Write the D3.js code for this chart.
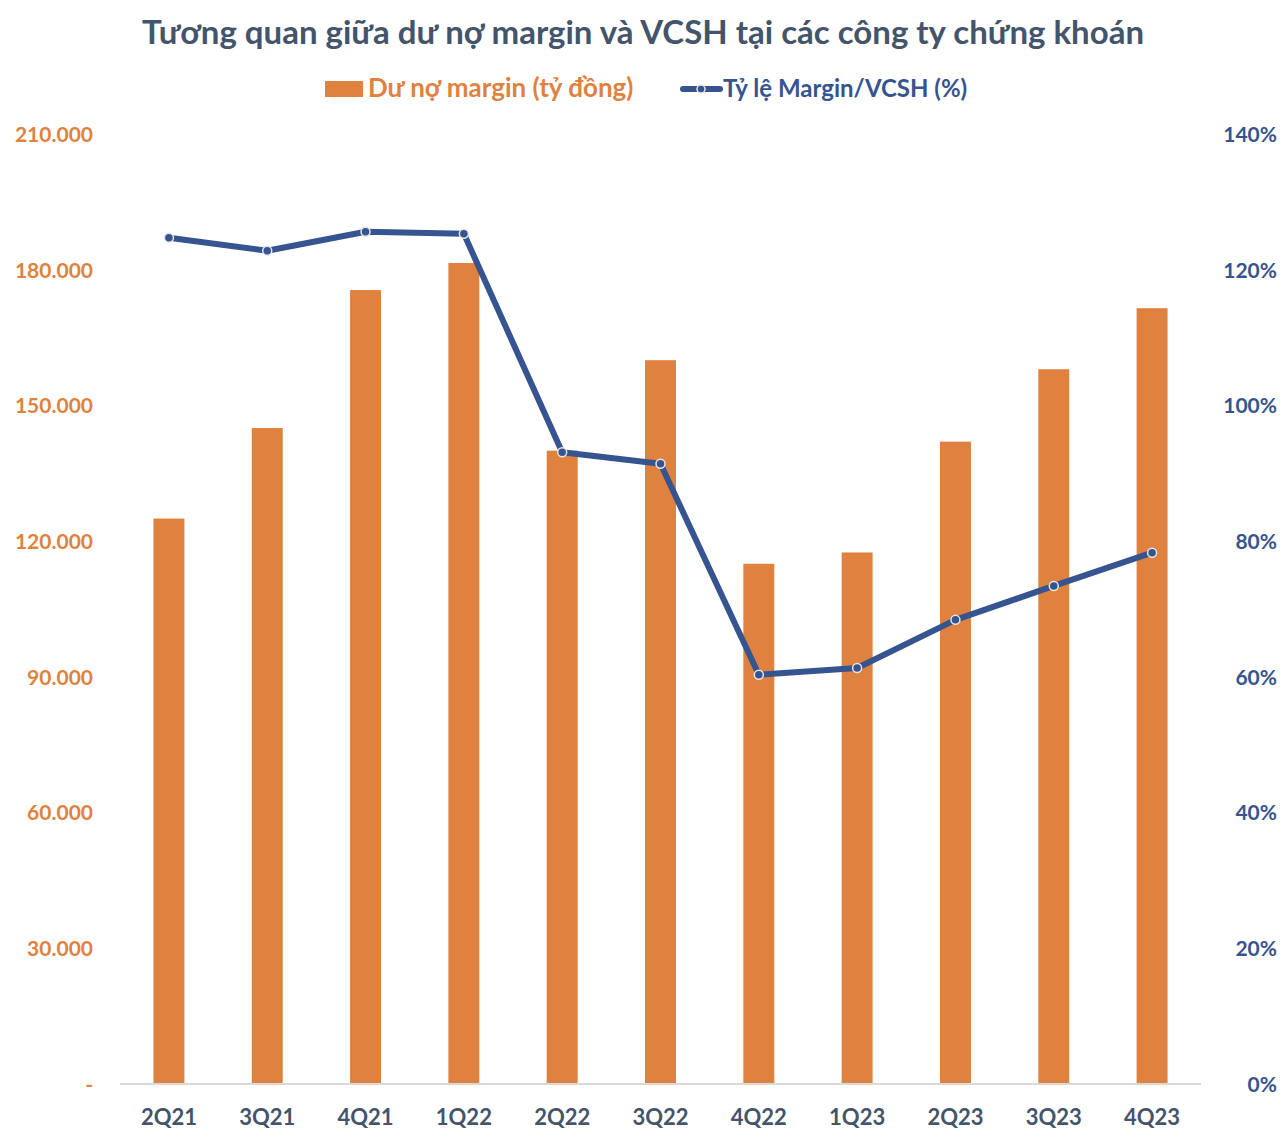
<!DOCTYPE html>
<html><head><meta charset="utf-8">
<script src="https://cdn.jsdelivr.net/npm/d3@7"></script>
<style>body{margin:0;background:#fff;} text{font-family:Lato,"Open Sans",sans-serif;font-weight:700;}</style>
</head><body>
<svg id="c" width="1288" height="1142"></svg>
<script>
const categories = ["2Q21","3Q21","4Q21","1Q22","2Q22","3Q22","4Q22","1Q23","2Q23","3Q23","4Q23"];
const marginDebt = [125000,145000,175500,181500,140000,160000,115000,117500,142000,158000,171500];
const ratioPct = [124.7,122.8,125.6,125.3,93.1,91.4,60.3,61.3,68.4,73.4,78.3];
const leftTicks = [0,30000,60000,90000,120000,150000,180000,210000];
const rightTicks = [0,20,40,60,80,100,120,140];
const title = "Tương quan giữa dư nợ margin và VCSH tại các công ty chứng khoán";
const legendBar = "Dư nợ margin (tỷ đồng)";
const legendLine = "Tỷ lệ Margin/VCSH (%)";

(function(){
const orange = "#E0823F", blue = "#36548F", titleColor = "#44546A";
const svg = d3.select("#c");
const pL = 120, pR = 1201, pT = 134, pB = 1084;

const x = d3.scaleBand().domain(categories).range([pL, pR]).paddingInner(0.685).paddingOuter(0.34);
const xc = d => x(d) + x.bandwidth()/2;
const yL = d3.scaleLinear().domain([0,210000]).range([pB, pT]);
const yR = d3.scaleLinear().domain([0,140]).range([pB, pT]);

svg.append("text").attr("x", 643).attr("y", 44).attr("text-anchor","middle")
  .attr("fill", titleColor).attr("font-size", 33).text(title);

const lg = svg.append("g");
lg.append("rect").attr("x", 325).attr("y", 81).attr("width", 38).attr("height", 16).attr("fill", orange);
lg.append("text").attr("x", 368).attr("y", 97).attr("fill", orange).attr("font-size", 26).text(legendBar);
lg.append("line").attr("x1", 683).attr("x2", 720).attr("y1", 89).attr("y2", 89).attr("stroke", blue).attr("stroke-width", 6).attr("stroke-linecap","round");
lg.append("circle").attr("cx", 701).attr("cy", 89).attr("r", 4).attr("fill", blue).attr("stroke", "#e6e6e6").attr("stroke-width", 1.5);
lg.append("text").attr("x", 723).attr("y", 97).attr("fill", blue).attr("font-size", 24).text(legendLine);

svg.append("g").selectAll("rect").data(marginDebt).join("rect")
  .attr("x", (d,i) => x(categories[i])).attr("width", x.bandwidth())
  .attr("y", d => yL(d)).attr("height", d => pB - yL(d)).attr("fill", orange);

const xa = svg.append("g").attr("transform", `translate(0,${pB})`).call(d3.axisBottom(x).tickSize(0).tickPadding(25));
xa.select(".domain").attr("stroke", "#d9d9d9").attr("stroke-width", 2).attr("d", `M${pL},0H${pR}`);
xa.selectAll("text").attr("fill", titleColor).attr("font-size", 22).style("font-family","Lato,sans-serif").style("font-weight",700);

const la = svg.append("g").attr("transform", `translate(93,0)`).call(d3.axisLeft(yL).tickValues(leftTicks).tickSize(0).tickPadding(0)
  .tickFormat(d => d === 0 ? "-" : d3.format(",")(d).replace(/,/g,".")));
la.select(".domain").remove();
la.selectAll("text").attr("fill", orange).attr("font-size", 21).attr("dy","0.35em").style("font-family","Lato,sans-serif").style("font-weight",700);

const ra = svg.append("g").attr("transform", `translate(1277,0)`).call(d3.axisLeft(yR).tickValues(rightTicks).tickSize(0).tickPadding(0).tickFormat(d => d + "%"));
ra.select(".domain").remove();
ra.selectAll("text").attr("fill", blue).attr("font-size", 21).attr("dy","0.35em").style("font-family","Lato,sans-serif").style("font-weight",700);

const line = d3.line().x((d,i) => xc(categories[i])).y(d => yR(d));
svg.append("path").datum(ratioPct).attr("d", line).attr("fill","none").attr("stroke", blue).attr("stroke-width", 6).attr("stroke-linejoin","round").attr("stroke-linecap","round");
svg.append("g").selectAll("circle").data(ratioPct).join("circle")
  .attr("cx", (d,i) => xc(categories[i])).attr("cy", d => yR(d)).attr("r", 4.5)
  .attr("fill", blue).attr("stroke", "#e6e6e6").attr("stroke-width", 1.5);
})();
</script>
</body></html>
